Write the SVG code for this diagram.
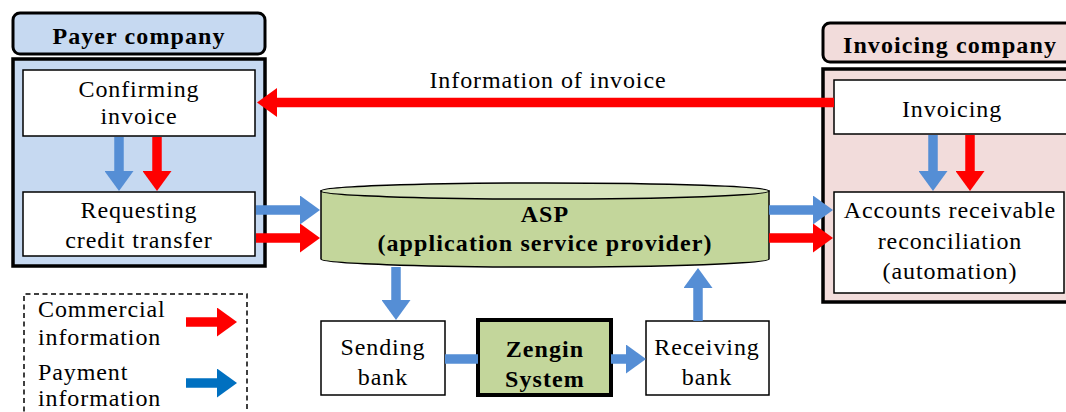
<svg xmlns="http://www.w3.org/2000/svg" width="1066" height="412" viewBox="0 0 1066 412" font-family="'Liberation Serif', 'Times New Roman', serif">
  <style>
    text { font-family: "Liberation Serif", "Times New Roman", serif; fill: #000; text-anchor: middle; }
    .t { font-size: 24px; letter-spacing: 0.9px; }
    .b { font-size: 24px; font-weight: bold; letter-spacing: 1.1px; }
    .box { fill: #fff; stroke: #000; stroke-width: 1.5; }
    .frame { stroke: #000; stroke-width: 3.5; }
    .red { stroke: #ff0000; stroke-width: 9.5; fill: none; marker-end: url(#hr); }
    .blue { stroke: #558ed5; stroke-width: 9.5; fill: none; marker-end: url(#hb); }
    .blueline { stroke: #558ed5; stroke-width: 9.5; fill: none; }
  </style>
  <defs>
    <marker id="hr" viewBox="0 -14.5 20 29" refX="1" refY="0" markerWidth="20" markerHeight="29" markerUnits="userSpaceOnUse" orient="auto">
      <path d="M0,-14.5 L20,0 L0,14.5 Z" fill="#ff0000"/>
    </marker>
    <marker id="hb" viewBox="0 -14.5 20 29" refX="1" refY="0" markerWidth="20" markerHeight="29" markerUnits="userSpaceOnUse" orient="auto">
      <path d="M0,-14.5 L20,0 L0,14.5 Z" fill="#558ed5"/>
    </marker>
    <marker id="hl" viewBox="0 -14.5 20 29" refX="1" refY="0" markerWidth="20" markerHeight="29" markerUnits="userSpaceOnUse" orient="auto">
      <path d="M0,-14.5 L20,0 L0,14.5 Z" fill="#0070c0"/>
    </marker>
  </defs>

  <!-- Payer company -->
  <g id="payer">
    <rect x="13" y="13" width="252" height="41" rx="7" fill="#c6d9f1" stroke="#000" stroke-width="3"/>
    <text class="b" x="139" y="44">Payer company</text>
    <rect class="frame" x="13" y="59" width="252" height="207" fill="#c6d9f1"/>
  </g>
  <g id="confirming">
    <rect class="box" x="23" y="70" width="232" height="66"/>
    <text class="t" x="139" y="97">Confirming</text>
    <text class="t" x="139" y="124">invoice</text>
  </g>
  <g id="requesting">
    <rect class="box" x="23" y="192" width="232" height="64"/>
    <text class="t" x="139" y="218">Requesting</text>
    <text class="t" x="139" y="248">credit transfer</text>
  </g>

  <!-- Invoicing company -->
  <g id="invoicing-company">
    <rect x="823" y="23" width="260" height="39" rx="7" fill="#f2dcdb" stroke="#000" stroke-width="3"/>
    <text class="b" x="950" y="53">Invoicing company</text>
    <rect class="frame" x="823" y="69" width="260" height="233" fill="#f2dcdb"/>
  </g>
  <g id="invoicing">
    <rect class="box" x="834" y="80" width="240" height="54"/>
    <text class="t" x="952" y="117">Invoicing</text>
  </g>
  <g id="reconciliation">
    <rect class="box" x="834" y="192" width="230" height="101"/>
    <text class="t" x="950" y="218">Accounts receivable</text>
    <text class="t" x="950" y="249">reconciliation</text>
    <text class="t" x="950" y="279">(automation)</text>
  </g>

  <!-- ASP -->
  <g id="asp">
    <path d="M321,191 V259 A224,8 0 0 0 769,259 V191 Z" fill="#c3d69b" stroke="#000" stroke-width="1.5"/>
    <ellipse cx="545" cy="191" rx="224" ry="8" fill="#d7e4bd" stroke="#000" stroke-width="1.5"/>
    <text class="b" x="545" y="222">ASP</text>
    <text class="b" x="545" y="251">(application service provider)</text>
  </g>

  <!-- Banks -->
  <g id="sending-bank">
    <rect class="box" x="321" y="321" width="124" height="74"/>
    <text class="t" x="383" y="355">Sending</text>
    <text class="t" x="383" y="385">bank</text>
  </g>
  <g id="zengin">
    <rect x="478" y="320" width="133" height="75" fill="#c3d69b" stroke="#000" stroke-width="4"/>
    <text class="b" x="545" y="357">Zengin</text>
    <text class="b" x="545" y="387">System</text>
  </g>
  <g id="receiving-bank">
    <rect class="box" x="646" y="321" width="123" height="74"/>
    <text class="t" x="707" y="355">Receiving</text>
    <text class="t" x="707" y="385">bank</text>
  </g>

  <!-- Legend -->
  <g id="legend">
    <path d="M24,420 V294 H247 V420" fill="none" stroke="#000" stroke-width="1.5" stroke-dasharray="5,3.5"/>
    <text class="t" x="38" y="317" style="text-anchor:start">Commercial</text>
    <text class="t" x="38" y="345" style="text-anchor:start">information</text>
    <text class="t" x="38" y="380" style="text-anchor:start">Payment</text>
    <text class="t" x="38" y="406" style="text-anchor:start">information</text>
    <line class="red" x1="186" y1="322" x2="218" y2="322"/>
    <line x1="186" y1="383" x2="218" y2="383" stroke="#0070c0" stroke-width="9.5" marker-end="url(#hl)"/>
  </g>

  <!-- Connectors -->
  <g id="connectors">
    <text class="t" x="548" y="88">Information of invoice</text>
    <line class="red" x1="834" y1="102.5" x2="276" y2="102.5"/>
    <line class="blue" x1="119" y1="137" x2="119" y2="172"/>
    <line class="red" x1="157" y1="137" x2="157" y2="172"/>
    <line class="blue" x1="933" y1="135" x2="933" y2="172"/>
    <line class="red" x1="970" y1="135" x2="970" y2="172"/>
    <line class="blue" x1="256" y1="210" x2="301" y2="210"/>
    <line class="red" x1="256" y1="238" x2="301" y2="238"/>
    <line class="blue" x1="769" y1="210" x2="814" y2="210"/>
    <line class="red" x1="769" y1="238" x2="814" y2="238"/>
    <line class="blue" x1="396" y1="267" x2="396" y2="301"/>
    <line class="blue" x1="698" y1="321" x2="698" y2="287"/>
    <line class="blueline" x1="445" y1="359" x2="478" y2="359"/>
    <line class="blue" x1="611" y1="359" x2="627" y2="359"/>
  </g>
</svg>
